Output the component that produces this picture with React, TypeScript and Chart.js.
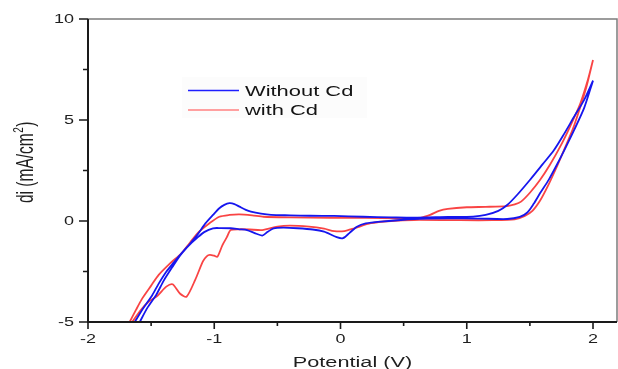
import { useEffect, useRef } from 'react';
import { Chart, registerables } from 'chart.js';

Chart.register(...registerables);

// ---- Data ----
const seriesNames = ['Without Cd', 'with Cd'];

// Without Cd: anodic (upper) branch, left to right
const blueUpperX = [-1.59, -1.53, -1.46, -1.40, -1.33, -1.27, -1.20, -1.13, -1.07, -1.01, -0.96, -0.92, -0.88, -0.84, -0.80, -0.75, -0.71, -0.63, -0.55, -0.40, -0.24, -0.05, 0.18, 0.40, 0.58, 0.85, 1.05, 1.15, 1.25, 1.32, 1.40, 1.50, 1.60, 1.69, 1.77, 1.85, 1.93, 2.00];
const blueUpperY = [-5.0, -4.3, -3.66, -2.95, -2.26, -1.7, -1.19, -0.65, -0.12, 0.3, 0.63, 0.8, 0.88, 0.84, 0.71, 0.55, 0.46, 0.36, 0.3, 0.28, 0.26, 0.25, 0.21, 0.18, 0.16, 0.2, 0.22, 0.3, 0.5, 0.79, 1.3, 2.03, 2.8, 3.5, 4.3, 5.16, 6.0, 6.95];
// Without Cd: cathodic (lower) branch, right to left
const blueLowerX = [2.00, 1.93, 1.85, 1.78, 1.72, 1.65, 1.58, 1.53, 1.48, 1.42, 1.32, 1.10, 0.85, 0.58, 0.32, 0.20, 0.13, 0.07, 0.02, -0.03, -0.13, -0.22, -0.34, -0.45, -0.53, -0.58, -0.62, -0.68, -0.74, -0.80, -0.87, -0.95, -1.01, -1.08, -1.14, -1.20, -1.26, -1.32, -1.38, -1.44, -1.49, -1.56, -1.63];
const blueLowerY = [6.95, 5.6, 4.5, 3.6, 2.86, 2.05, 1.37, 0.85, 0.42, 0.2, 0.1, 0.12, 0.13, 0.1, -0.03, -0.12, -0.28, -0.6, -0.85, -0.8, -0.53, -0.42, -0.36, -0.33, -0.36, -0.55, -0.72, -0.6, -0.45, -0.41, -0.36, -0.35, -0.36, -0.55, -0.86, -1.2, -1.6, -2.05, -2.51, -3.1, -3.66, -4.3, -5.0];

// with Cd: anodic (upper) branch, left to right
const redUpperX = [-1.67, -1.62, -1.57, -1.50, -1.44, -1.35, -1.26, -1.19, -1.12, -1.04, -0.96, -0.88, -0.80, -0.70, -0.61, -0.40, -0.08, 0.20, 0.45, 0.61, 0.66, 0.71, 0.78, 0.85, 1.00, 1.15, 1.32, 1.38, 1.43, 1.50, 1.58, 1.66, 1.74, 1.82, 1.90, 1.96, 2.00];
const redUpperY = [-5.0, -4.4, -3.83, -3.2, -2.67, -2.1, -1.6, -1.05, -0.53, -0.12, 0.21, 0.3, 0.33, 0.28, 0.21, 0.18, 0.16, 0.15, 0.13, 0.13, 0.2, 0.3, 0.5, 0.6, 0.68, 0.7, 0.74, 0.82, 0.96, 1.4, 2.03, 2.8, 3.68, 4.7, 5.83, 7.0, 7.97];
// with Cd: cathodic (lower) branch, right to left
const redLowerX = [2.00, 1.95, 1.90, 1.84, 1.77, 1.70, 1.64, 1.58, 1.52, 1.46, 1.38, 1.20, 0.90, 0.58, 0.40, 0.24, 0.11, 0.03, -0.05, -0.13, -0.25, -0.40, -0.50, -0.62, -0.72, -0.80, -0.87, -0.90, -0.935, -0.975, -1.00, -1.035, -1.06, -1.09, -1.15, -1.22, -1.27, -1.33, -1.38, -1.45, -1.52, -1.58, -1.65];
const redLowerY = [7.97, 6.7, 5.66, 4.55, 3.51, 2.5, 1.7, 1.0, 0.5, 0.25, 0.08, 0.04, 0.04, 0.05, 0.0, -0.11, -0.36, -0.5, -0.5, -0.38, -0.28, -0.23, -0.28, -0.45, -0.42, -0.41, -0.45, -0.8, -1.19, -1.77, -1.72, -1.68, -1.75, -2.0, -2.9, -3.75, -3.6, -3.13, -3.25, -3.7, -4.0, -4.4, -5.0];

// Axis ticks
const xMajorTicks = [-2, -1, 0, 1, 2];
const xTickLabels = ['-2', '-1', '0', '1', '2'];
const xMinorTicks = [-1.5, -0.5, 0.5, 1.5];
const yMajorTicks = [-5, 0, 5, 10];
const yTickLabels = ['-5', '0', '5', '10'];
const yMinorTicks = [-2.5, 2.5, 7.5];

const xTitle = 'Potential (V)';
const yTitleMain = 'di (mA/cm';
const yTitleSup = '2';
const yTitleEnd = ')';

const FONT = '"Liberation Sans", Arial, Helvetica, sans-serif';
const BLUE = 'rgb(22,22,238)';
const RED = 'rgba(248,52,52,0.92)';

function toPoints(ax: number[], ay: number[], bx: number[], by: number[]) {
  const pts: { x: number; y: number }[] = [];
  ax.forEach((x, i) => pts.push({ x, y: ay[i] }));
  bx.forEach((x, i) => pts.push({ x, y: by[i] }));
  return pts;
}

function stretchText(ctx: CanvasRenderingContext2D, text: string, x: number, y: number, sx: number, align: CanvasTextAlign) {
  ctx.save();
  ctx.translate(x, y);
  ctx.scale(sx, 1);
  ctx.textAlign = align;
  ctx.textBaseline = 'alphabetic';
  ctx.fillText(text, 0, 0);
  ctx.restore();
}

const decorPlugin = {
  id: 'decor',
  afterDraw(chart: any) {
    const { ctx, chartArea: a, scales } = chart;
    const xs = scales.x;
    const ys = scales.y;
    ctx.save();

    // top and right frame (grey)
    ctx.strokeStyle = '#7c7c7c';
    ctx.lineWidth = 1.5;
    ctx.beginPath();
    ctx.moveTo(a.left, a.top);
    ctx.lineTo(a.right, a.top);
    ctx.lineTo(a.right, a.bottom);
    ctx.stroke();

    // left and bottom axes (black)
    ctx.strokeStyle = '#1a1a1a';
    ctx.lineWidth = 2;
    ctx.beginPath();
    ctx.moveTo(a.left, a.top);
    ctx.lineTo(a.left, a.bottom);
    ctx.lineTo(a.right, a.bottom);
    ctx.stroke();

    // ticks
    ctx.lineWidth = 1.6;
    ctx.beginPath();
    yMajorTicks.forEach((v) => {
      const p = ys.getPixelForValue(v);
      ctx.moveTo(a.left - 9, p);
      ctx.lineTo(a.left, p);
    });
    yMinorTicks.forEach((v) => {
      const p = ys.getPixelForValue(v);
      ctx.moveTo(a.left - 5, p);
      ctx.lineTo(a.left, p);
    });
    xMajorTicks.forEach((v) => {
      const p = xs.getPixelForValue(v);
      ctx.moveTo(p, a.bottom);
      ctx.lineTo(p, a.bottom + 7);
    });
    xMinorTicks.forEach((v) => {
      const p = xs.getPixelForValue(v);
      ctx.moveTo(p, a.bottom);
      ctx.lineTo(p, a.bottom + 4);
    });
    ctx.stroke();

    // tick labels
    ctx.fillStyle = '#1e1e1e';
    ctx.font = `12px ${FONT}`;
    yMajorTicks.forEach((v, i) => {
      const p = ys.getPixelForValue(v);
      stretchText(ctx, yTickLabels[i], a.left - 14, p + 4.3, 1.5, 'right');
    });
    xMajorTicks.forEach((v, i) => {
      const p = xs.getPixelForValue(v);
      stretchText(ctx, xTickLabels[i], p, a.bottom + 21, 1.5, 'center');
    });

    // x title
    ctx.font = `14px ${FONT}`;
    stretchText(ctx, xTitle, (a.left + a.right) / 2, 367, 1.55, 'center');

    // y title (rotated)
    ctx.save();
    ctx.translate(33, 203);
    ctx.rotate(-Math.PI / 2);
    ctx.scale(1, 1.5);
    ctx.textAlign = 'left';
    ctx.textBaseline = 'alphabetic';
    ctx.font = `15.5px ${FONT}`;
    ctx.fillText(yTitleMain, 0, 0);
    const w1 = ctx.measureText(yTitleMain).width;
    ctx.font = `10px ${FONT}`;
    ctx.fillText(yTitleSup, w1 + 0.5, -6.5);
    const w2 = ctx.measureText(yTitleSup).width;
    ctx.font = `15.5px ${FONT}`;
    ctx.fillText(yTitleEnd, w1 + w2 + 1, 0);
    ctx.restore();

    // legend
    ctx.fillStyle = 'rgba(0,0,0,0.01)';
    ctx.fillRect(182, 77, 185, 41);
    const rows = [
      { name: seriesNames[0], color: 'rgb(30,30,255)', y: 90.5 },
      { name: seriesNames[1], color: 'rgb(255,128,128)', y: 110 },
    ];
    rows.forEach((r) => {
      ctx.strokeStyle = r.color;
      ctx.lineWidth = 1.6;
      ctx.beginPath();
      ctx.moveTo(188, r.y);
      ctx.lineTo(239, r.y);
      ctx.stroke();
      ctx.fillStyle = '#141414';
      ctx.font = `15px ${FONT}`;
      stretchText(ctx, r.name, 245, r.y + 5.3, 1.46, 'left');
    });

    ctx.restore();
  },
};

export default function App() {
  const canvasRef = useRef<HTMLCanvasElement | null>(null);

  useEffect(() => {
    const canvas = canvasRef.current;
    if (!canvas) return;
    const chart = new Chart(canvas, {
      type: 'scatter',
      data: {
        datasets: [
          {
            label: seriesNames[0],
            data: toPoints(blueUpperX, blueUpperY, blueLowerX, blueLowerY),
            showLine: true,
            borderColor: BLUE,
            backgroundColor: BLUE,
            borderWidth: 1.8,
            pointRadius: 0,
            tension: 0.25,
            fill: false,
          },
          {
            label: seriesNames[1],
            data: toPoints(redUpperX, redUpperY, redLowerX, redLowerY),
            showLine: true,
            borderColor: RED,
            backgroundColor: RED,
            borderWidth: 1.8,
            pointRadius: 0,
            tension: 0.25,
            fill: false,
          },
        ],
      },
      options: {
        animation: false,
        responsive: false,
        maintainAspectRatio: false,
        events: [],
        layout: { padding: { left: 0, top: 19, right: 1, bottom: 0 } },
        plugins: {
          legend: { display: false },
          tooltip: { enabled: false },
          title: { display: false },
        },
        scales: {
          x: {
            type: 'linear',
            min: -2,
            max: 2.19,
            grid: { display: false },
            border: { display: false },
            ticks: { display: false },
            afterFit: (s: any) => {
              s.height = 47;
            },
          },
          y: {
            type: 'linear',
            min: -5,
            max: 10,
            grid: { display: false },
            border: { display: false },
            ticks: { display: false },
            afterFit: (s: any) => {
              s.width = 88;
            },
          },
        },
      },
      plugins: [decorPlugin],
    });
    return () => chart.destroy();
  }, []);

  return (
    <div style={{ position: 'absolute', left: 0, top: 0, width: 618, height: 369, background: '#fff' }}>
      <canvas ref={canvasRef} width={618} height={369} style={{ display: 'block' }} />
    </div>
  );
}
